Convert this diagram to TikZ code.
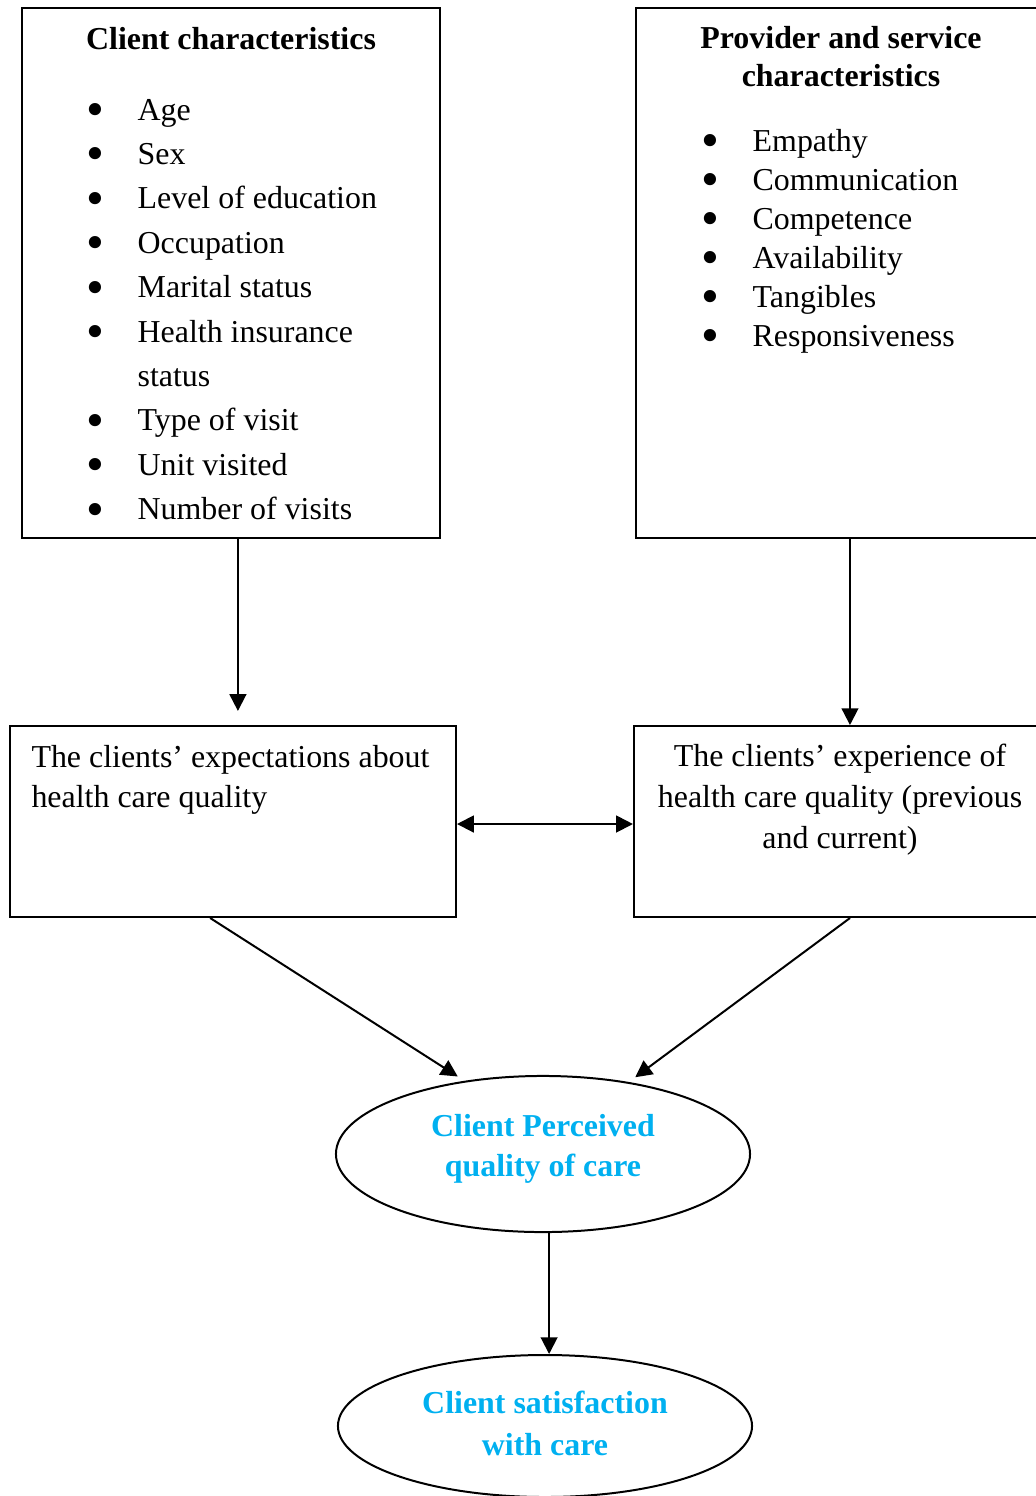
\documentclass[tikz,border=0pt]{standalone}
\usepackage{fontspec}
\setmainfont{Liberation Serif}
\usetikzlibrary{arrows.meta,shapes.geometric}
\definecolor{skyblue}{HTML}{00B0F0}
\newcommand{\lsp}[1]{\fontsize{12pt}{#1}\selectfont}
\newcommand{\dotitem}{\makebox[4.2pt][c]{\raisebox{-2.4pt}[0pt][0pt]{\scalebox{1.6}{\textbullet}}}}

\begin{document}
\begin{tikzpicture}[x=0.376pt,y=-0.376pt,
  box/.style={draw,line width=0.75pt,rectangle,inner sep=0pt},
  oval/.style={draw,line width=0.75pt,ellipse,inner sep=0pt,minimum width=155.7pt},
  txt/.style={inner sep=0pt},
  goal/.style={inner sep=0pt,text=skyblue,font=\bfseries},
  arr/.style={line width=0.75pt,-{Triangle[length=6.3pt,width=6.3pt]}},
  both/.style={line width=0.75pt,{Triangle[length=6.3pt,width=6.3pt]}-{Triangle[length=6.3pt,width=6.3pt]}}]
\useasboundingbox (0,0) rectangle (1036,1496);

\node [box,minimum width=157.2pt,minimum height=199.3pt] (client) at (231,273){}; %Client box
\node [box,minimum width=154.9pt,minimum height=199.3pt] (provider) at (842,273){}; %Provider box
\node [box,minimum width=167.7pt,minimum height=71.8pt] (expect) at (233,821.5){}; %Expectations
\node [box,minimum width=155.7pt,minimum height=71.8pt] (exper) at (841,821.5){}; %Experience
\node [oval,minimum height=58.7pt] (perceived) at (543,1154){}; %Perceived quality
\node [oval,minimum height=53.4pt] (satisf) at (545,1426){}; %Satisfaction

\node [txt,anchor=base] (clienttitle) at (231,49) {\lsp{14pt}\bfseries Client characteristics};
\node [txt,anchor=base west] (clientlist) at (89,120) {\lsp{16.7pt}\begin{tabular}[t]{@{}l@{\hspace{13.9pt}}l@{}}
\dotitem & Age\\
\dotitem & Sex\\
\dotitem & Level of education\\
\dotitem & Occupation\\
\dotitem & Marital status\\
\dotitem & Health insurance\\
 & status\\
\dotitem & Type of visit\\
\dotitem & Unit visited\\
\dotitem & Number of visits
\end{tabular}};

\node [txt,anchor=base] (provtitle) at (841,48) {\lsp{14.3pt}\bfseries\begin{tabular}[t]{@{}c@{}}Provider and service\\ characteristics\end{tabular}};
\node [txt,anchor=base west] (provlist) at (704,151) {\lsp{14.7pt}\begin{tabular}[t]{@{}l@{\hspace{13.9pt}}l@{}}
\dotitem & Empathy\\
\dotitem & Communication\\
\dotitem & Competence\\
\dotitem & Availability\\
\dotitem & Tangibles\\
\dotitem & Responsiveness
\end{tabular}};

\node [txt,anchor=base west] (expecttext) at (31,767) {\lsp{15.2pt}\begin{tabular}[t]{@{}l@{}}The clients’ expectations about\\ health care quality\end{tabular}};
\node [txt,anchor=base] (expertext) at (840,766) {\lsp{15.5pt}\begin{tabular}[t]{@{}c@{}}The clients’ experience of\\ health care quality (previous\\ and current)\end{tabular}};
\node [goal,anchor=base] (perceivedtext) at (543,1136) {\lsp{15.4pt}\begin{tabular}[t]{@{}c@{}}Client Perceived\\ quality of care\end{tabular}};
\node [goal,anchor=base] (satisftext) at (545,1413) {\lsp{15.8pt}\begin{tabular}[t]{@{}c@{}}Client satisfaction\\ with care\end{tabular}};

\draw [arr,shorten >=5.3pt] ([xshift=2.6pt]client.south) -- ([xshift=2.6pt]client.south |- expect.north);
\draw [arr] ([xshift=3pt]provider.south) -- ([xshift=3pt]provider.south |- exper.north);
\draw [both] ([yshift=-0.94pt]expect.east) -- ([yshift=-0.94pt]exper.west);
\draw [arr,shorten >=3pt] ([xshift=-8.6pt]expect.south) -- (perceived.137);
\draw [arr,shorten >=3pt] ([xshift=3.4pt]exper.south) -- (perceived.40);
\draw [arr] ([xshift=2.3pt]perceived.south) -- ([xshift=2.3pt]perceived.south |- satisf.north);

\end{tikzpicture}
\end{document}
